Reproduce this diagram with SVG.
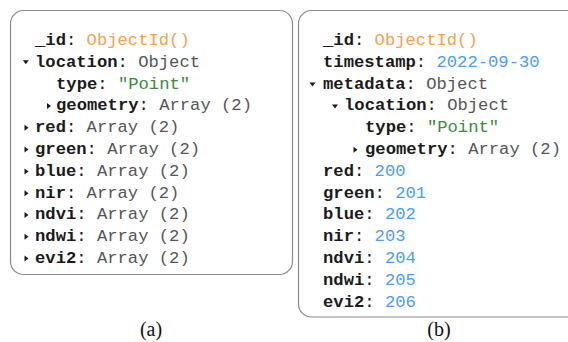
<svg xmlns="http://www.w3.org/2000/svg" width="568" height="342" viewBox="0 0 568 342">
  <style>
    .panel { fill: #ffffff; stroke: #8a8a8a; stroke-width: 1.2; }
    text { font-family: "Liberation Mono", "Courier New", monospace; font-size: 17.2px; }
    .k { font-weight: bold; fill: #1a1a1a; }
    .p { fill: #1a1a1a; }
    .v { fill: #555555; }
    .oid { fill: #f7a04e; }
    .str { fill: #3a8a3a; }
    .num { fill: #4a9cf4; }
    .tri { fill: #1a1a1a; }
    .cap { font-family: "Liberation Serif", "Times New Roman", serif; font-size: 20px; fill: #111111; }
  </style>
  <defs>
    <!-- collapsed / expanded markers, drawn around the origin -->
    <path id="closed" d="M-2 -3 L2 0 L-2 3 Z"/>
    <path id="open" d="M-3 -2 L3 -2 L0 2 Z"/>
  </defs>

  <!-- (a) document with arrays per band -->
  <g id="doc-a">
    <rect class="panel" x="10.5" y="10.5" width="282" height="264" rx="13"/>
    <text x="35" y="45"><tspan class="k">_id</tspan><tspan class="p">: </tspan><tspan class="oid">ObjectId()</tspan></text>
    <use href="#open" class="tri" x="25.8" y="62.3"/>
    <text x="35" y="66.8"><tspan class="k">location</tspan><tspan class="p">: </tspan><tspan class="v">Object</tspan></text>
    <text x="56" y="88.6"><tspan class="k">type</tspan><tspan class="p">: </tspan><tspan class="str">"Point"</tspan></text>
    <use href="#closed" class="tri" x="49" y="106"/>
    <text x="56" y="110.4"><tspan class="k">geometry</tspan><tspan class="p">: </tspan><tspan class="v">Array (2)</tspan></text>
    <use href="#closed" class="tri" x="26.5" y="127.8"/>
    <text x="35" y="132.2"><tspan class="k">red</tspan><tspan class="p">: </tspan><tspan class="v">Array (2)</tspan></text>
    <use href="#closed" class="tri" x="26.5" y="149.6"/>
    <text x="35" y="154"><tspan class="k">green</tspan><tspan class="p">: </tspan><tspan class="v">Array (2)</tspan></text>
    <use href="#closed" class="tri" x="26.5" y="171.4"/>
    <text x="35" y="175.8"><tspan class="k">blue</tspan><tspan class="p">: </tspan><tspan class="v">Array (2)</tspan></text>
    <use href="#closed" class="tri" x="26.5" y="193.2"/>
    <text x="35" y="197.6"><tspan class="k">nir</tspan><tspan class="p">: </tspan><tspan class="v">Array (2)</tspan></text>
    <use href="#closed" class="tri" x="26.5" y="215"/>
    <text x="35" y="219.4"><tspan class="k">ndvi</tspan><tspan class="p">: </tspan><tspan class="v">Array (2)</tspan></text>
    <use href="#closed" class="tri" x="26.5" y="236.8"/>
    <text x="35" y="241.2"><tspan class="k">ndwi</tspan><tspan class="p">: </tspan><tspan class="v">Array (2)</tspan></text>
    <use href="#closed" class="tri" x="26.5" y="258.6"/>
    <text x="35" y="263"><tspan class="k">evi2</tspan><tspan class="p">: </tspan><tspan class="v">Array (2)</tspan></text>
    <text class="cap" x="151" y="336" text-anchor="middle">(a)</text>
  </g>

  <!-- (b) one document per timestamp -->
  <g id="doc-b">
    <rect class="panel" x="298.5" y="10.5" width="290" height="306.5" rx="13"/>
    <text x="323" y="45"><tspan class="k">_id</tspan><tspan class="p">: </tspan><tspan class="oid">ObjectId()</tspan></text>
    <text x="323" y="66.8"><tspan class="k">timestamp</tspan><tspan class="p">: </tspan><tspan class="num">2022-09-30</tspan></text>
    <use href="#open" class="tri" x="312.5" y="84.6"/>
    <text x="323" y="88.6"><tspan class="k">metadata</tspan><tspan class="p">: </tspan><tspan class="v">Object</tspan></text>
    <use href="#open" class="tri" x="335" y="106.4"/>
    <text x="344" y="110.4"><tspan class="k">location</tspan><tspan class="p">: </tspan><tspan class="v">Object</tspan></text>
    <text x="365" y="132.2"><tspan class="k">type</tspan><tspan class="p">: </tspan><tspan class="str">"Point"</tspan></text>
    <use href="#closed" class="tri" x="355.5" y="149.8"/>
    <text x="365" y="154"><tspan class="k">geometry</tspan><tspan class="p">: </tspan><tspan class="v">Array (2)</tspan></text>
    <text x="323" y="175.8"><tspan class="k">red</tspan><tspan class="p">: </tspan><tspan class="num">200</tspan></text>
    <text x="323" y="197.6"><tspan class="k">green</tspan><tspan class="p">: </tspan><tspan class="num">201</tspan></text>
    <text x="323" y="219.4"><tspan class="k">blue</tspan><tspan class="p">: </tspan><tspan class="num">202</tspan></text>
    <text x="323" y="241.2"><tspan class="k">nir</tspan><tspan class="p">: </tspan><tspan class="num">203</tspan></text>
    <text x="323" y="263"><tspan class="k">ndvi</tspan><tspan class="p">: </tspan><tspan class="num">204</tspan></text>
    <text x="323" y="284.8"><tspan class="k">ndwi</tspan><tspan class="p">: </tspan><tspan class="num">205</tspan></text>
    <text x="323" y="306.6"><tspan class="k">evi2</tspan><tspan class="p">: </tspan><tspan class="num">206</tspan></text>
    <text class="cap" x="439" y="336" text-anchor="middle">(b)</text>
  </g>

  <!-- no connectors between the two documents -->
  <g id="connectors"/>
</svg>
